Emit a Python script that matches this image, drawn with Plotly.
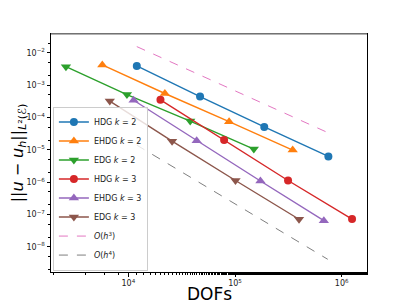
import plotly.graph_objects as go

# ---- data ----
hdg2_dofs = [1.2e4, 4.7e4, 1.88e5, 7.5e5]
hdg2_err = [3.9e-3, 4.4e-4, 5.1e-5, 6.2e-6]

ehdg2_dofs = [5.7e3, 2.2e4, 8.8e4, 3.47e5]
ehdg2_err = [4.2e-3, 5.5e-4, 7.4e-5, 9.8e-6]

edg2_dofs = [2.6e3, 9.7e3, 3.8e4, 1.5e5]
edg2_err = [3.7e-3, 5.1e-4, 7.7e-5, 1.05e-5]

hdg3_dofs = [2.0e4, 7.9e4, 3.14e5, 1.25e6]
hdg3_err = [3.5e-4, 2.0e-5, 1.12e-6, 7.2e-8]

ehdg3_dofs = [1.12e4, 4.37e4, 1.73e5, 6.8e5]
ehdg3_err = [3.4e-4, 1.9e-5, 1.08e-6, 6.4e-8]

edg3_dofs = [6.7e3, 2.57e4, 1.01e5, 3.98e5]
edg3_err = [3.2e-4, 1.85e-5, 1.12e-6, 7.1e-8]

ref3_dofs = [1.2e4, 7.4e5]
ref3_err = [1.55e-2, 3.4e-5]

ref4_dofs = [1.2e4, 7.4e5]
ref4_err = [1.39e-5, 4.1e-9]

x_tickvals = [1e4, 1e5, 1e6]
x_ticktext = ["10<sup>4</sup>", "10<sup>5</sup>", "10<sup>6</sup>"]
y_tickvals = [1e-8, 1e-7, 1e-6, 1e-5, 1e-4, 1e-3, 1e-2]
y_ticktext = ["10<sup>\u22128</sup>", "10<sup>\u22127</sup>", "10<sup>\u22126</sup>",
              "10<sup>\u22125</sup>", "10<sup>\u22124</sup>", "10<sup>\u22123</sup>",
              "10<sup>\u22122</sup>"]

series = [
    ("HDG <i>k</i> = 2", hdg2_dofs, hdg2_err, "#1f77b4", "circle", 8),
    ("EHDG <i>k</i> = 2", ehdg2_dofs, ehdg2_err, "#ff7f0e", "triangle-up", 9),
    ("EDG <i>k</i> = 2", edg2_dofs, edg2_err, "#2ca02c", "triangle-down", 9),
    ("HDG <i>k</i> = 3", hdg3_dofs, hdg3_err, "#d62728", "circle", 8),
    ("EHDG <i>k</i> = 3", ehdg3_dofs, ehdg3_err, "#9467bd", "triangle-up", 9),
    ("EDG <i>k</i> = 3", edg3_dofs, edg3_err, "#8c564b", "triangle-down", 9),
]

fig = go.Figure()
for name, xs, ys, col, sym, sz in series:
    fig.add_trace(go.Scatter(x=xs, y=ys, mode="lines+markers", name=name,
                             line=dict(color=col, width=1.4),
                             marker=dict(color=col, symbol=sym, size=sz, line=dict(width=0))))

fig.add_trace(go.Scatter(x=ref3_dofs, y=ref3_err, mode="lines", name="<i>O</i>(<i>h</i><sup>3</sup>)",
                         line=dict(color="#e377c2", width=1, dash="dash")))
fig.add_trace(go.Scatter(x=ref4_dofs, y=ref4_err, mode="lines", name="<i>O</i>(<i>h</i><sup>4</sup>)",
                         line=dict(color="#7f7f7f", width=1, dash="dash")))

axis_common = dict(type="log", showgrid=False, zeroline=False, showline=True, linecolor="black",
                   linewidth=1, mirror=True, ticks="outside", ticklen=3.5, tickwidth=0.8,
                   tickcolor="black", automargin=False,
                   tickfont=dict(family="DejaVu Sans", size=8, color="#222"),
                   minor=dict(ticks="outside", ticklen=2, tickwidth=0.6, tickcolor="black", showgrid=False))

fig.update_xaxes(**axis_common, range=[3.275, 6.237], tickvals=x_tickvals, ticktext=x_ticktext)
fig.update_yaxes(**axis_common, range=[-8.78, -1.42], tickvals=y_tickvals, ticktext=y_ticktext,
                 title=dict(text="||<i>u</i> \u2212 <i>u</i><sub><i>h</i></sub>||<sub><i>L</i>\u00b2(\u2130)</sub>",
                            font=dict(family="DejaVu Sans", size=16, color="black"), standoff=2))

# page body has an 8px default margin, so figure is 8px smaller and offsets reduced by 8
fig.update_layout(
    width=399, height=297,
    margin=dict(l=43, r=40, t=26, b=33),
    plot_bgcolor="white", paper_bgcolor="white",
    font=dict(family="DejaVu Sans", color="black"),
    legend=dict(x=0.006, y=0.006, xanchor="left", yanchor="bottom",
                bgcolor="rgba(255,255,255,0.8)", bordercolor="#cccccc", borderwidth=1,
                font=dict(family="DejaVu Sans", size=8, color="#222"),
                itemwidth=30, tracegroupgap=0),
    shapes=[dict(type="line", xref="paper", yref="paper", x0=0, x1=1, y0=1, y1=1,
                 line=dict(color="#999999", width=1.5), layer="above")],
    annotations=[dict(text="DOFs", xref="paper", yref="paper", x=0.5, y=0,
                      xanchor="center", yanchor="top", yshift=-11, showarrow=False, borderpad=0,
                      font=dict(family="DejaVu Sans", size=17, color="black"))],
)

fig.write_html("out.html")
